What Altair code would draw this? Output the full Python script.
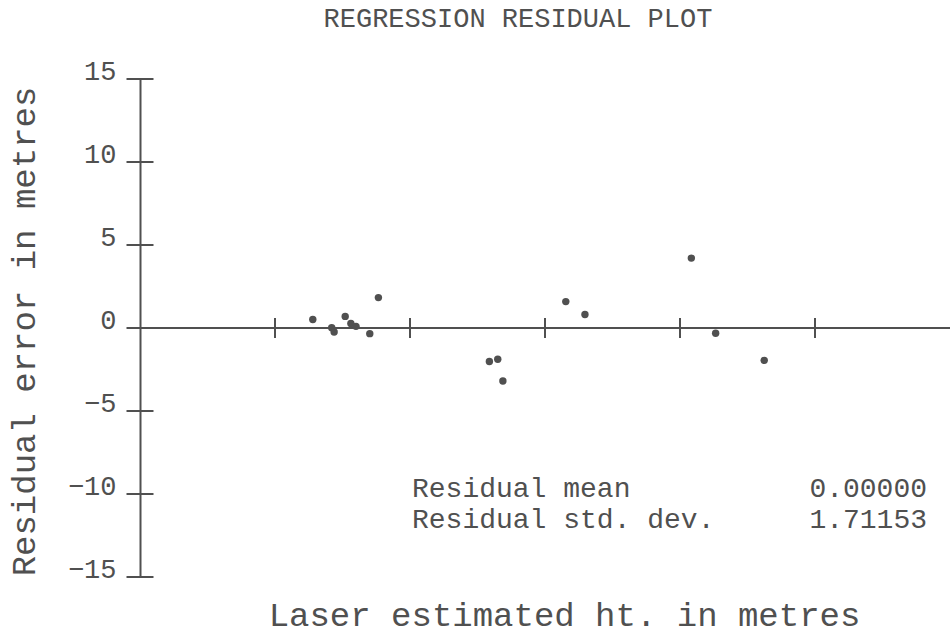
import altair as alt
import pandas as pd

# ---- data ----
laser_ht = [6.40, 7.10, 7.19, 7.60, 7.81, 8.00, 8.51, 8.83,
            12.94, 13.25, 13.44, 15.77, 16.48, 20.42, 21.32, 23.12]
residual = [0.51, 0.02, -0.24, 0.70, 0.27, 0.10, -0.34, 1.83,
            -2.02, -1.88, -3.19, 1.59, 0.81, 4.21, -0.32, -1.95]

y_ticks = [-15, -10, -5, 0, 5, 10, 15]
x_ticks = [5, 10, 15, 20, 25]
x_domain = [0, 30]
y_domain = [-15, 15]

title_text = "REGRESSION RESIDUAL PLOT"
x_title = "Laser estimated ht. in metres"
y_title = "Residual error in metres"
stat_labels = ["Residual mean", "Residual std. dev."]
stat_values = ["0.00000", "1.71153"]

INK = "#505050"
FONT = "Liberation Mono"

pts = pd.DataFrame({"ht": laser_ht, "res": residual})
yt = pd.DataFrame({"x": [0] * len(y_ticks), "y": y_ticks})
xt = pd.DataFrame({"x": x_ticks, "y": [0] * len(x_ticks)})
hline = pd.DataFrame({"x": [x_domain[0]], "x2": [x_domain[1]], "y": [0]})
one = pd.DataFrame({"k": [0]})

xs = alt.Scale(domain=x_domain, nice=False, zero=False)
ys = alt.Scale(domain=y_domain, nice=False, zero=False)

x_axis = alt.Axis(labels=False, ticks=False, domain=False, grid=False,
                  title=x_title, titleFont=FONT, titleFontSize=34,
                  titleFontWeight="normal", titleColor=INK,
                  titleX=424, titleY=48, titleBaseline="alphabetic",
                  titleAlign="center")
y_axis = alt.Axis(values=y_ticks, ticks=False, tickSize=0, grid=False,
                  domain=True, domainColor=INK, domainWidth=2,
                  labelFont=FONT, labelFontSize=27, labelColor=INK,
                  labelBaseline="alphabetic", labelPadding=24,
                  labelAlign="right",
                  title=y_title, titleFont=FONT, titleFontSize=34,
                  titleFontWeight="normal", titleColor=INK,
                  titleX=-106, titleY=252, titleAngle=270,
                  titleBaseline="alphabetic", titleAlign="center")

points = alt.Chart(pts).mark_circle(size=55, color=INK, opacity=1).encode(
    x=alt.X("ht:Q", scale=xs, axis=x_axis),
    y=alt.Y("res:Q", scale=ys, axis=y_axis),
)

zero_line = alt.Chart(hline).mark_rule(color=INK, strokeWidth=2).encode(
    x=alt.X("x:Q", scale=xs), x2="x2:Q", y=alt.Y("y:Q", scale=ys)
)

ytick_marks = alt.Chart(yt).mark_tick(
    orient="horizontal", size=27, thickness=2, color=INK, opacity=1
).encode(x=alt.X("x:Q", scale=xs), y=alt.Y("y:Q", scale=ys))

xtick_marks = alt.Chart(xt).mark_tick(
    orient="vertical", size=20, thickness=2, color=INK, opacity=1
).encode(x=alt.X("x:Q", scale=xs), y=alt.Y("y:Q", scale=ys))

title_mark = alt.Chart(one).mark_text(
    text=title_text, font=FONT, fontSize=27, color=INK, align="center",
    baseline="alphabetic"
).encode(x=alt.value(378), y=alt.value(-52))

stat_lab = alt.Chart(one).mark_text(
    text=stat_labels, font=FONT, fontSize=28, color=INK, align="left",
    baseline="alphabetic", lineHeight=31
).encode(x=alt.value(272), y=alt.value(418))

stat_val = alt.Chart(one).mark_text(
    text=stat_values, font=FONT, fontSize=28, color=INK, align="right",
    baseline="alphabetic", lineHeight=31
).encode(x=alt.value(787), y=alt.value(418))

chart = alt.layer(
    zero_line, ytick_marks, xtick_marks, points, title_mark, stat_lab, stat_val
).properties(
    width=810, height=498,
    padding={"left": 140, "top": 79, "right": 0, "bottom": 57},
    autosize=alt.AutoSizeParams(type="none"),
    background="white",
).configure_view(stroke=None)

chart.save("out.html", embed_options={"renderer": "svg", "actions": False})
